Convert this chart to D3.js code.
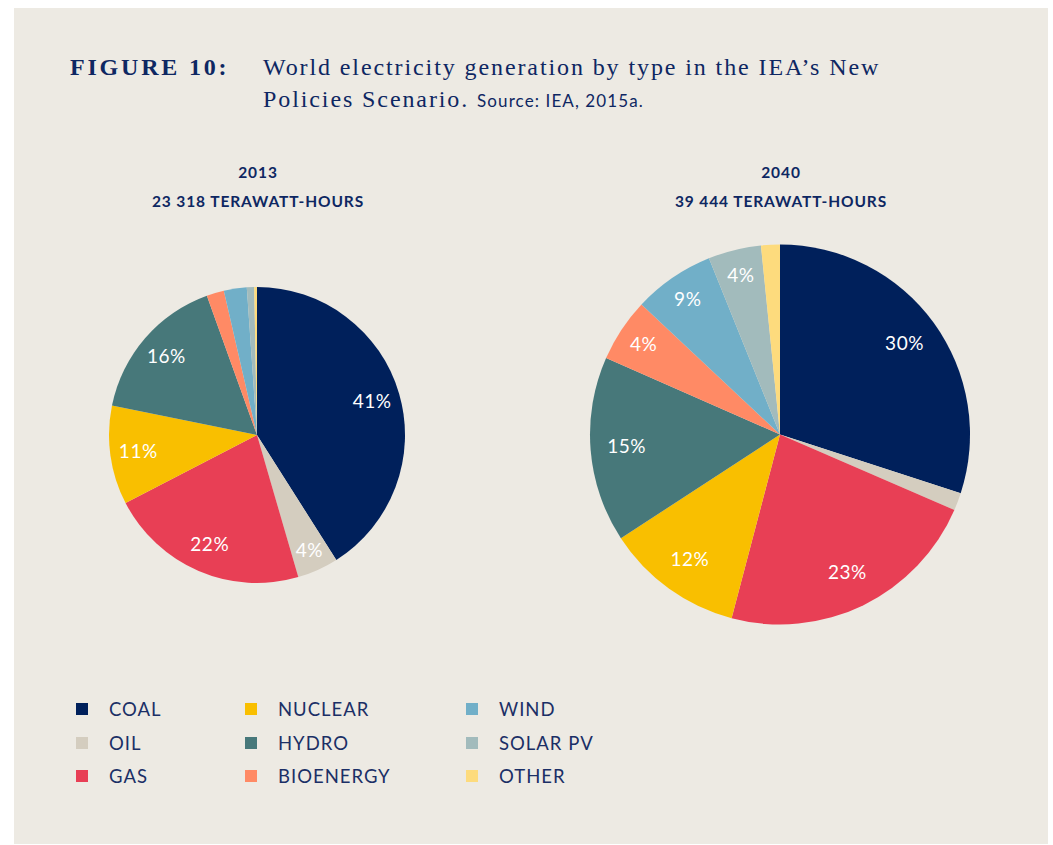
<!DOCTYPE html>
<html>
<head>
<meta charset="utf-8">
<script src="https://cdn.jsdelivr.net/npm/d3@7"></script>
<style>
  body { margin: 0; background: #fff; }
  svg { display: block; }
</style>
</head>
<body>
<div class="chart"></div>
<script>
'use strict';

// categories, in clockwise order from 12 o'clock
const categories = ['COAL', 'OIL', 'GAS', 'NUCLEAR', 'HYDRO', 'BIOENERGY', 'WIND', 'SOLAR PV', 'OTHER'];
const colours = ['#00205B', '#D4CDBF', '#E83F55', '#F9BF00', '#47787A', '#FF8A65', '#71AFC8', '#A2BBBC', '#FDDB7D'];

// shares (%) as drawn in the figure
const values2013 = [41.0, 4.5, 21.9, 10.8, 16.3, 1.9, 2.5, 0.8, 0.3];
const values2040 = [30.0, 1.5, 22.6, 11.7, 15.8, 5.4, 6.9, 4.5, 1.6];
// labels as printed on the slices
const labels2013 = ['41%', '4%', '22%', '11%', '16%', '', '', '', ''];
const labels2040 = ['30%', '', '23%', '12%', '15%', '4%', '9%', '4%', ''];

const years = ['2013', '2040'];
const totals = ['23 318 TERAWATT-HOURS', '39 444 TERAWATT-HOURS'];

const width = 1053;
const height = 845;
const navy = '#0E2762';
const sans = 'Lato, "Open Sans", sans-serif';
const serif = '"Liberation Serif", "DejaVu Serif", serif';

const svg = d3.select('.chart')
    .append('svg')
    .attr('width', width)
    .attr('height', height);

svg.append('rect')
    .attr('x', 14).attr('y', 8)
    .attr('width', 1034).attr('height', 836)
    .attr('fill', '#EDEAE3');

// title
const title = svg.append('g').attr('fill', navy).style('font-family', serif);
title.append('text')
    .attr('x', 70).attr('y', 75)
    .style('font-size', '24px').style('font-weight', 'bold').style('letter-spacing', '2.8px')
    .text('FIGURE 10:');
title.append('text')
    .attr('x', 263).attr('y', 75)
    .style('font-size', '24px').style('letter-spacing', '1.9px')
    .text('World electricity generation by type in the IEA\u2019s New');
const line2 = title.append('text')
    .attr('x', 263).attr('y', 107)
    .style('font-size', '24px').style('letter-spacing', '1.9px');
line2.append('tspan').text('Policies Scenario. ');
line2.append('tspan')
    .style('font-family', sans).style('font-size', '17px').style('letter-spacing', '1.1px')
    .text('Source: IEA, 2015a.');

const pies = [
    {values: values2013, labels: labels2013, cx: 257, cy: 435, r: 148},
    {values: values2040, labels: labels2040, cx: 780, cy: 434.5, r: 190}
];

const pie = d3.pie().sort(null).value((d) => d);

pies.forEach((p, i) => {
    const g = svg.append('g').attr('transform', 'translate(' + p.cx + ',' + p.cy + ')');
    const arc = d3.arc().innerRadius(0).outerRadius(p.r);
    const arcs = pie(p.values);

    g.selectAll('path')
        .data(arcs)
        .enter().append('path')
        .attr('d', arc)
        .attr('fill', (d, j) => colours[j]);

    g.selectAll('text.pct')
        .data(arcs)
        .enter().append('text')
        .attr('class', 'pct')
        .attr('transform', (d) => {
            const k = d.value < 10 ? 0.86 : 0.81;
            const a = d3.arc().innerRadius(p.r * k).outerRadius(p.r * k);
            return 'translate(' + a.centroid(d) + ')';
        })
        .attr('text-anchor', 'middle')
        .attr('dy', '0.33em')
        .attr('fill', '#fff')
        .style('font-family', sans)
        .style('font-size', '19px')
        .style('letter-spacing', '0.5px')
        .text((d, j) => p.labels[j]);

    const head = svg.append('g')
        .attr('fill', navy)
        .attr('text-anchor', 'middle')
        .style('font-family', sans)
        .style('font-weight', 'bold')
        .style('font-size', '15.5px')
        .style('letter-spacing', '0.9px');
    head.append('text').attr('x', p.cx + 1).attr('y', 178).text(years[i]);
    head.append('text').attr('x', p.cx + 1).attr('y', 206.5).text(totals[i]);
});

// legend, three columns of three
const legend = svg.append('g').style('font-family', sans);
const colX = [76, 245, 466];
const rowY = [709, 743, 776];
const items = legend.selectAll('g')
    .data(categories)
    .enter().append('g')
    .attr('transform', (d, j) => 'translate(' + colX[Math.floor(j / 3)] + ',' + rowY[j % 3] + ')');
items.append('rect')
    .attr('x', 0).attr('y', -6)
    .attr('width', 12).attr('height', 12)
    .attr('fill', (d, j) => colours[j]);
items.append('text')
    .attr('x', 33).attr('dy', '0.36em')
    .attr('fill', '#1B2F66')
    .style('font-size', '18.5px')
    .style('letter-spacing', '1px')
    .text((d) => d);
</script>
</body>
</html>
